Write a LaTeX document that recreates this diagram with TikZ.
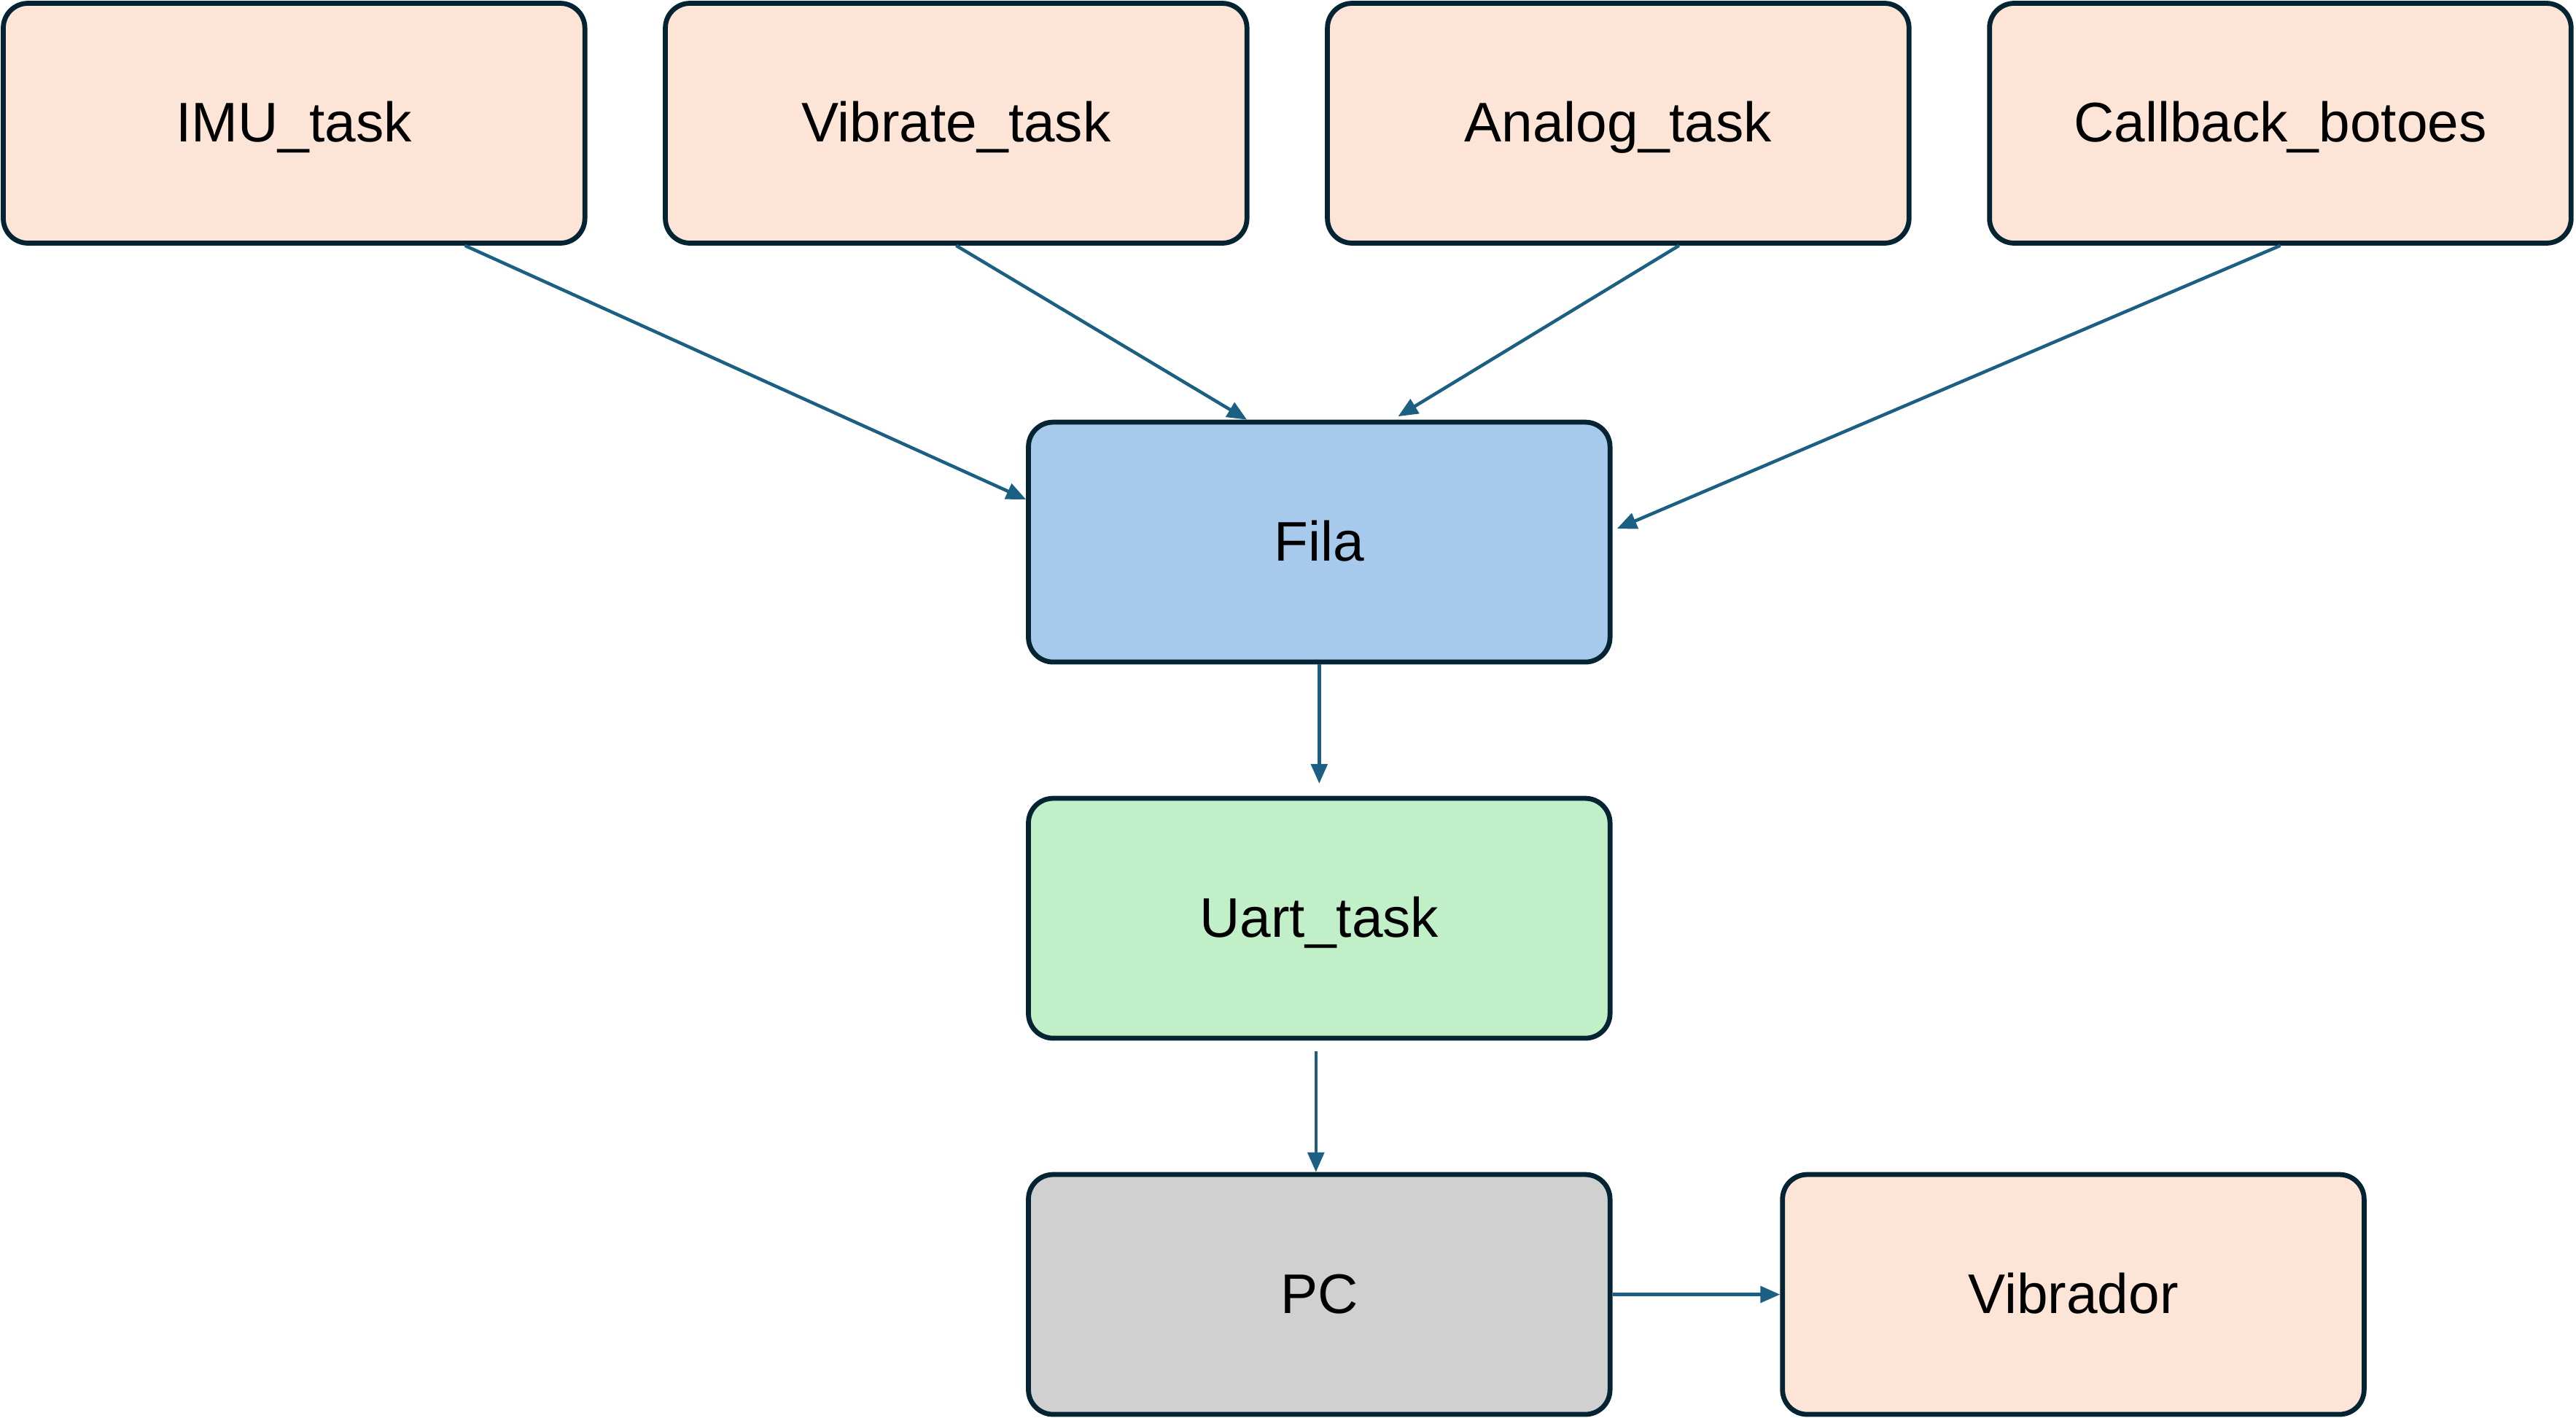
\documentclass[tikz,border=0pt]{standalone}
\usepackage{fontspec}
\setmainfont{Liberation Sans}
\usetikzlibrary{positioning,arrows.meta}
\definecolor{boxline}{HTML}{042433}
\definecolor{fleblue}{HTML}{1B5F82}
\definecolor{taskpeach}{HTML}{FCE4D6}
\definecolor{filablue}{HTML}{A6C9EC}
\definecolor{uartgreen}{HTML}{C1F0C8}
\definecolor{pcgray}{HTML}{D0D0D0}

\begin{document}
\begin{tikzpicture}[
  x=0.5pt, y=-0.5pt,
  font=\fontsize{17}{20}\selectfont,
  box/.style={draw=boxline, line width=1.5pt, rounded corners=7.5pt,
              minimum width=177pt, minimum height=73pt, align=center,
              text height=12.5pt, text depth=1pt},
  task/.style={box, fill=taskpeach},
  fila/.style={box, fill=filablue},
  uart/.style={box, fill=uartgreen},
  pc/.style={box, fill=pcgray},
  fleche/.style={-{Triangle[length=6pt,width=5pt]}, draw=fleblue, line width=1pt},
  node distance=23pt]

\useasboundingbox (0,0) rectangle (1568,863);

% tarefas
\node[task] (imu) at (179,75) {IMU\_task};
\node[task, right=of imu] (vib) {Vibrate\_task};
\node[task, right=of vib] (analog) {Analog\_task};
\node[task, right=of analog] (botoes) {Callback\_botoes};

\node[fila] (fila) at (803,330) {Fila};
\node[uart] (uart) at (803,559) {Uart\_task};
\node[pc] (pc) at (803,788) {PC};
\node[task] (vibrador) at (1262,788) {Vibrador};

\draw[fleche] ([xshift=52pt]imu.south) -- ([yshift=13pt]fila.west);
\draw[fleche] (vib.south) -- ([xshift=-22pt]fila.north);
\draw[fleche] ([xshift=18.5pt]analog.south) -- ([xshift=24pt,yshift=1pt]fila.north);
\draw[fleche, shorten >=1.5pt] (botoes.south) -- ([yshift=3.5pt]fila.east);
\draw[fleche, shorten >=3.75pt] (fila.south) -- (uart.north);
\draw[fleche, shorten <=3.25pt] ([xshift=-1pt]uart.south) -- ([xshift=-1pt]pc.north);
\draw[fleche] (pc.east) -- (vibrador.west);
\end{tikzpicture}
\end{document}
